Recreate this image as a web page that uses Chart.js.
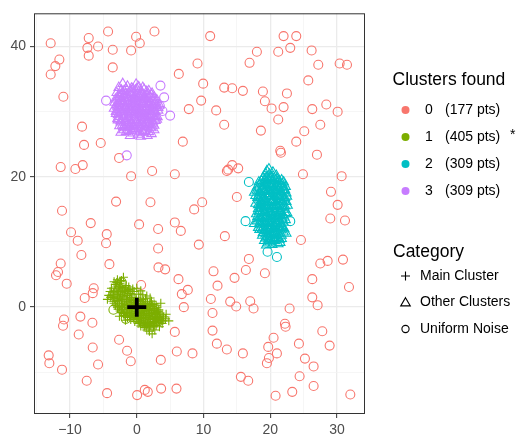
<!DOCTYPE html>
<html lang="en">
<head>
    <meta charset="UTF-8">
    <title>Clusters</title>
    <script src="https://cdn.jsdelivr.net/npm/chart.js@4.4.0/dist/chart.umd.min.js"></script>
    <style>
        body { margin: 0; background: #fff; }
    </style>
</head>
<body>
<canvas id="chart" width="517" height="441"></canvas>

<script>
    // uniform noise, assigned to cluster 0
    const noise0 = [
        [-12.9,40.5],[-7.2,41.3],[-4.3,42.3],[-7.4,39.8],[-5.8,40],[-7.2,38.6],[-3.6,39.5],[-11.6,38],[-12.2,37],
        [-12.9,35.7],[-11.0,32.3],[-3.6,36.8],[-0.1,41.5],[0.45,40.5],[-0.85,39.4],[2.65,42.3],[11.0,41.6],[6.3,35.8],
        [9.1,37.4],[9.95,34.3],[9.65,31.7],[7.8,30.4],[11.9,30.2],[13.1,33.7],[14.3,33.6],[15.9,33.2],[13.1,28.0],
        [16.9,37.5],[18.0,39.2],[21.2,39.2],[22.0,41.6],[23.9,41.6],[23.0,39.8],[26.2,39.4],[27.2,37.2],[30.4,37.4],
        [31.5,37.2],[25.7,34.8],[18.9,33.1],[19.2,31.6],[22.5,32.8],[22.0,30.7],[20.2,30.5],[26.3,30.4],[28.4,31.1],
        [30.1,30.0],[21.2,28.8],[18.6,27.1],[25.1,27.0],[27.5,28.0],[23.9,25.4],[21.5,24.0],[21.6,23.7],[27.0,23.4],
        [24.9,20.4],[30.7,20.1],[29.1,17.7],[30.1,15.7],[29.0,13.6],[31.2,13.3],[-8.2,27.7],[-7.9,24.9],[-5.4,25.2],
        [-8.1,21.8],[-9.2,21.2],[-11.4,21.5],[-11.2,14.8],[-2.65,22.9],[-0.85,20.1],[2.3,20.9],[5.7,20.4],[6.9,25.4],
        [-3.1,16.2],[2.05,16.1],[8.6,15.0],[9.8,16.1],[13.5,20.9],[13.7,21.1],[14.3,21.8],[15.2,21.3],[15.0,16.9],
        [-6.9,12.9],[0.35,12.7],[5.7,13.0],
        [3.2,12.0],[6.6,11.7],[-9.85,11.5],[-8.85,10.2],[-4.5,11.2],[-4.6,9.8],[-8.3,8.0],[-11.4,6.7],[-11.8,5.4],
        [-12.1,4.9],[-10.5,3.6],[-4.1,6.6],[-6.45,2.9],[-6.6,2.15],[-7.8,1.4],[0.65,3.4],[3.2,9.0],[3.25,6.1],
        [4.25,5.8],[6.25,4.3],[6.75,2.0],[7.65,2.65],[7.05,0],[9.3,9.6],[13.2,10.9],[11.5,5.5],[12.1,3.3],[11.1,1.25],
        [14.0,0.85],[14.9,0.1],[11.35,-0.9],[14.65,4.5],[16.35,5.7],[16.8,7.4],[17.0,0.9],[17.5,-0.2],[19.2,5.2],
        [24.6,10.3],[27.5,6.7],[28.6,7.1],[30.9,7.3],[26.3,4.3],[31.8,3.1],[26.3,1.5],[27.1,0.3],[22.9,-0.2],
        [22.2,-2.55],[22.3,-3.0],[27.8,-3.7],[28.9,-5.9],[20.5,-4.7],[19.7,-6.1],[24.3,-5.6],[21.0,-7.1],[19.8,-7.8],
        [19.5,-8.6],[25.2,-7.9],[26.5,-9.1],[24.4,-10.6],[26.5,-12.1],[23.3,-13.0],[20.8,-13.6],[32.0,-13.4],
        [15.6,-10.7],[16.7,-11.3],[15.9,-7.1],[13.5,-6.5],[12.0,-5.6],[11.35,-3.6],[8.35,-7.1],[6.0,-6.8],[5.7,-3.8],
        [3.6,-8.1],[3.65,-12.5],[5.95,-12.5],[0.05,-13.5],[1.2,-12.7],[1.65,-13.0],[-4.45,-13.2],[-7.5,-11.3],
        [-11.2,-9.6],[-13.1,-8.6],[-13.2,-7.4],[-5.8,-8.8],[-6.6,-6.2],[-8.7,-4.2],[-8.45,-1.45],[-6.65,-2.4],
        [-10.9,-1.9],[-11.05,-2.85],[-2.65,-5.0],[-1.45,-6.7],[-0.9,-8.3]
    ];
    // noise points picked up by the clusters
    const noise1 = [[-3.5,-0.4],[-1.65,-1.8],[-2.25,3.8]];
    const noise2 = [[16.8,19.2],[16.3,13.2],[23.0,13.2],[19.6,8.5],[21.0,7.7]];
    const noise3 = [[-4.6,31.7],[3.55,34.0],[4.1,32.2],[3.85,30.1],[5.0,29.4],[3.45,30.9],[-1.5,23.3]];

    // main cluster around the origin
    const mainPts = [
        [-3.4,3.9],[-2.9,4.2],[-2.5,3.6],[-3.0,3.1],[-3.8,2.9],[-2.2,3.0],[-1.6,3.3],[-1.2,2.7],[-2.7,2.4],[-3.5,2.2],
        [-4.2,1.8],[-4.4,1.2],[-3.9,1.5],[-3.1,1.7],[-2.4,1.9],[-1.8,2.2],[-1.0,2.1],[-0.4,2.4],[0.3,2.0],[0.9,1.9],
        [-3.6,0.9],[-2.9,1.0],[-2.2,1.2],[-1.5,1.4],[-0.8,1.5],[-0.1,1.4],[0.6,1.2],[1.3,1.3],[-3.2,0.3],[-2.6,0.5],
        [-1.9,0.6],[-1.2,0.8],[-0.5,0.7],[0.2,0.6],[0.9,0.5],[1.6,0.6],[2.2,0.9],[-2.8,-0.3],[-2.1,-0.1],[-1.4,0.0],
        [-0.7,0.1],[0.1,-0.1],[0.8,-0.2],[1.5,-0.1],[2.3,0.1],[2.9,0.3],[-2.3,-0.8],[-1.6,-0.6],[-0.9,-0.6],[-0.2,-0.7],
        [0.5,-0.8],[1.2,-0.7],[1.9,-0.6],[2.6,-0.5],[3.3,-0.4],[-1.9,-1.3],[-1.1,-1.2],[-0.4,-1.3],[0.3,-1.4],[1.0,-1.3],
        [1.7,-1.3],[2.4,-1.2],[3.1,-1.1],[3.8,-1.2],[-0.9,-1.9],[-0.1,-1.9],[0.6,-2.0],[1.3,-2.0],[2.0,-1.9],[2.7,-1.8],
        [3.5,-1.7],[4.3,-1.8],[4.8,-2.1],[0.2,-2.5],[0.9,-2.6],[1.6,-2.6],[2.3,-2.5],[3.0,-2.4],[3.8,-2.5],[1.1,-3.1],
        [1.8,-3.2],[2.5,-3.0],[1.9,-3.7],[2.3,-4.1],[-2.0,4.6],[-1.4,1.8],[0.0,2.9],[-2.6,-1.4],[3.6,0.6],[2.7,-3.5],
        [-3.2,3.5],[-2.6,3.2],[-1.9,2.8],[-3.3,2.6],[-2.9,2.0],[-2.1,2.5],[-1.4,2.4],[-0.7,1.9],[-3.7,1.9],[-3.3,1.3],
        [-2.6,1.4],[-1.9,1.7],[-1.1,1.2],[-0.4,1.0],[0.3,1.0],[1.0,0.9],[-3.4,0.6],[-2.6,0.1],[-1.8,0.3],[-1.0,0.4],
        [-0.3,0.3],[0.5,0.2],[1.2,0.2],[1.9,0.3],[2.6,0.5],[-2.5,-0.6],[-1.8,-0.3],[-1.1,-0.3],[-0.4,-0.3],[0.4,-0.4],
        [1.1,-0.4],[1.8,-0.3],[2.6,-0.2],[3.1,-0.7],[-2.0,-1.0],[-1.3,-0.9],[-0.6,-1.0],[0.1,-1.0],[0.8,-1.0],[1.5,-0.9],
        [2.2,-0.9],[2.9,-0.8],[3.5,-0.9],[-1.4,-1.6],[-0.7,-1.6],[0.0,-1.6],[0.7,-1.7],[1.4,-1.6],[2.1,-1.5],[2.8,-1.5],
        [3.4,-1.4],[4.0,-1.5],[-0.3,-2.2],[0.4,-2.3],[1.1,-2.3],[1.8,-2.3],[2.5,-2.2],[3.2,-2.1],[3.9,-2.1],[0.6,-2.9],
        [1.4,-2.9],[2.1,-2.8],[2.9,-2.8],[3.4,-3.0],[1.5,-3.5],[-2.3,4.1],[-1.2,3.1],[-0.6,2.8],[0.6,2.5],[1.5,1.7],
        [2.0,1.4],[-4.0,2.4],[4.4,-1.1],[-1.7,-2.0],
        [-3.0,3.8],[-2.4,3.9],[-2.8,2.8],[-2.4,2.2],[-1.7,2.6],[-1.0,2.5],[-3.5,1.6],[-2.8,1.4],[-2.1,1.6],[-1.5,1.1],
        [-0.8,1.1],[-0.1,1.1],[0.6,0.9],[1.3,0.8],[-3.1,0.9],[-2.3,0.8],[-1.6,0.9],[-0.9,0.8],[-0.2,0.5],[0.6,0.5],
        [1.3,0.5],[2.0,0.6],[-2.9,0.0],[-2.2,0.3],[-1.5,0.4],[-0.8,-0.2],[0.1,0.3],[0.9,0.1],[1.6,0.1],[2.3,0.4],
        [3.0,-0.1],[-2.2,-0.4],[-1.5,-0.8],[-0.8,-0.9],[-0.1,-0.4],[0.7,-0.6],[1.4,-0.5],[2.1,-0.3],[2.8,-1.1],[3.3,-0.6],
        [-1.7,-1.4],[-0.9,-1.4],[-0.2,-1.2],[0.5,-1.2],[1.2,-1.1],[1.9,-1.0],[2.6,-1.0],[3.2,-1.6],[-0.5,-1.7],[0.3,-1.8],
        [1.0,-1.8],[1.7,-1.7],[2.4,-1.7],[3.0,-1.9],[3.7,-2.0],[0.6,-2.4],[1.3,-2.5],[2.0,-2.4],[2.7,-2.3],[3.5,-2.3],
        [1.2,-2.8],[1.9,-3.0],[2.6,-2.7]
    ];
    const mainCenter = [[0, 0]];

    // the two other clusters
    const otherPts2 = [
        [19.8,21.2],[20.4,20.7],[19.3,20.5],[20.9,20.2],[18.9,19.8],[19.7,19.6],[20.6,19.8],[21.3,19.4],[18.3,19.2],
        [19.1,19.0],[20.1,18.9],[21.0,18.7],[21.8,18.9],[18.0,18.4],[18.8,18.2],[19.6,18.4],[20.5,18.1],[21.4,18.3],
        [22.2,18.0],[17.6,17.6],[18.4,17.5],[19.2,17.7],[20.0,17.4],[20.8,17.6],[21.6,17.3],[22.4,17.5],[18.1,16.8],
        [18.9,16.6],[19.7,16.9],[20.5,16.5],[21.3,16.7],[22.1,16.4],[17.8,15.9],[18.6,16.0],[19.4,15.8],[20.2,16.0],
        [21.0,15.7],[21.8,15.9],[22.6,15.6],[18.2,15.1],[19.0,15.2],[19.8,14.9],[20.6,15.1],[21.4,14.8],[22.2,15.0],
        [17.9,14.3],[18.7,14.4],[19.5,14.1],[20.3,14.3],[21.1,14.0],[21.9,14.2],[18.3,13.5],[19.1,13.6],[19.9,13.3],
        [20.7,13.5],[21.5,13.2],[22.3,13.4],[17.6,12.8],[18.5,12.6],[19.3,12.8],[20.1,12.5],[20.9,12.7],[21.7,12.4],
        [18.4,11.9],[19.2,11.7],[20.0,11.9],[20.8,11.6],[21.6,11.8],[22.4,11.3],[18.8,11.0],[19.6,10.8],[20.4,11.0],
        [21.2,10.7],[19.1,10.2],[19.9,10.0],[20.7,10.2],[21.5,9.9],[19.4,9.5],[20.3,9.6],[19.5,20.9],[20.3,16.2],
        [19.0,13.0],[20.5,12.0],[21.2,17.0],[18.6,15.5],[22.0,19.2],
        [19.4,19.9],[20.2,20.0],[21.0,19.7],[18.7,19.4],[19.5,19.3],[20.3,19.4],[21.1,19.2],[21.7,19.5],[18.4,18.7],
        [19.2,18.6],[20.0,18.6],[20.8,18.5],[21.6,18.7],[22.3,18.5],[18.0,17.9],[18.8,18.0],[19.6,17.9],[20.4,17.8],
        [21.2,18.0],[22.0,17.8],[17.8,17.1],[18.6,17.2],[19.4,17.3],[20.2,17.1],[21.0,17.2],[21.8,17.1],[22.5,17.0],
        [18.3,16.4],[19.1,16.3],[19.9,16.5],[20.7,16.2],[21.5,16.4],[22.4,16.2],[18.2,15.7],[19.0,15.6],[19.8,15.6],
        [20.6,15.5],[21.4,15.6],[22.2,15.5],[18.4,14.8],[19.2,14.7],[20.0,14.7],[20.8,14.6],[21.6,14.7],[22.5,14.5],
        [18.1,13.9],[18.9,14.0],[19.7,13.9],[20.5,13.8],[21.3,14.0],[22.1,13.8],[18.0,13.2],[18.8,13.1],[19.6,13.2],
        [20.4,13.0],[21.2,13.2],[22.0,13.0],[18.2,12.2],[19.0,12.3],[19.8,12.2],[20.6,12.4],[21.4,12.2],[22.1,12.0],
        [18.9,11.4],[19.7,11.5],[20.5,11.4],[21.3,11.3],[22.0,11.5],[19.3,10.6],[20.1,10.5],[20.9,10.6],[21.7,10.5],
        [19.6,9.8],[20.5,10.3],[21.2,9.7],
        [19.9,20.4],[19.2,19.6],[20.0,19.7],[20.8,19.5],[18.8,18.9],[19.6,18.8],[20.4,18.7],[21.2,18.6],[22.0,18.4],
        [18.4,17.7],[19.2,17.9],[20.0,17.8],[20.8,17.9],[21.6,17.7],[18.2,17.0],[19.0,16.9],[19.8,17.1],[20.6,16.9],
        [21.4,17.0],[22.2,16.8],[18.7,16.2],[19.5,16.1],[20.3,16.3],[21.1,16.1],[21.9,16.2],[18.6,15.3],[19.4,15.4],
        [20.2,15.3],[21.0,15.4],[21.8,15.3],[18.3,14.6],[19.1,14.5],[19.9,14.5],[20.7,14.4],[21.5,14.5],[22.3,14.4],
        [18.6,13.7],[19.4,13.8],[20.2,13.6],[21.0,13.8],[21.8,13.6],[18.4,12.9],[19.2,12.9],[20.0,12.8],[20.8,13.0],
        [21.6,12.8],[18.8,12.0],[19.6,12.1],[20.4,12.0],[21.2,12.1],[21.9,12.2],[19.3,11.2],[20.1,11.2],[20.9,11.1],
        [21.7,11.0],[19.7,10.4],[20.6,10.7],[21.4,10.4]
    ];
    const otherPts3 = [
        [-2.1,34.3],[-2.7,33.7],[-1.4,33.9],[-0.6,33.5],[0.3,33.8],[1.1,33.4],[2.3,32.8],[-3.0,32.9],[-2.2,32.8],
        [-1.5,32.6],[-0.7,32.9],[0.1,32.7],[0.9,32.5],[1.7,32.7],[2.6,32.2],[-3.2,31.9],[-2.5,31.7],[-1.8,31.9],
        [-1.0,31.6],[-0.2,31.8],[0.6,31.5],[1.4,31.8],[2.1,31.5],[2.9,31.4],[-2.9,30.8],[-2.1,30.9],[-1.3,30.6],
        [-0.5,30.8],[0.3,30.5],[1.1,30.7],[1.9,30.4],[2.7,30.6],[3.2,30.2],[-3.1,29.7],[-2.4,29.9],[-1.6,29.6],
        [-0.8,29.8],[0.0,29.5],[0.8,29.7],[1.6,29.4],[2.4,29.6],[3.1,29.2],[-2.8,28.7],[-2.0,28.9],[-1.2,28.6],
        [-0.4,28.8],[0.4,28.5],[1.2,28.7],[2.0,28.4],[2.8,28.6],[-2.6,27.8],[-1.8,27.5],[-1.0,27.7],[-0.2,27.4],
        [0.6,27.6],[1.4,27.3],[2.2,27.5],[-1.6,26.9],[-0.6,26.7],[0.2,26.5],[1.0,26.8],[2.2,26.6],[-2.3,33.3],
        [1.8,33.2],[-0.1,34.2],[0.7,29.0],[-1.9,30.2],[1.5,30.0],[-0.9,31.2],[0.5,32.2],
        [-1.9,33.2],[-1.0,33.1],[-0.2,33.3],[0.7,33.0],[1.5,33.1],[-2.6,32.3],[-1.9,32.4],[-1.1,32.2],[-0.3,32.4],
        [0.4,32.3],[1.2,32.2],[2.0,32.3],[-2.9,32.1],[-2.2,32.0],[-1.5,32.1],[-0.5,32.0],[0.2,32.1],[1.0,31.9],
        [1.8,32.0],[2.5,31.8],[-2.7,31.2],[-2.0,31.3],[-1.3,31.1],[-0.5,31.3],[0.2,31.1],[1.0,31.2],[1.7,31.1],
        [2.4,31.0],[2.9,30.9],[-2.6,30.3],[-1.7,30.5],[-0.9,30.3],[-0.1,30.4],[0.7,30.2],[1.5,30.5],[2.3,30.2],
        [-3.0,30.2],[-2.3,30.0],[-1.2,30.0],[-0.3,30.1],[0.4,29.9],[1.1,30.1],[2.0,29.9],[2.8,30.0],[-2.7,29.2],
        [-2.0,29.3],[-1.2,29.2],[-0.4,29.1],[0.4,29.3],[1.2,29.1],[2.0,29.2],[2.7,29.0],[-2.4,28.4],[-1.6,28.3],
        [-0.8,28.2],[0.0,28.3],[0.8,28.2],[1.6,28.1],[2.4,28.2],[-2.2,27.9],[-1.4,28.0],[-0.6,27.9],[0.2,28.0],
        [1.0,27.9],[1.8,28.0],[2.6,27.9],[-2.0,27.2],[-1.2,27.1],[-0.4,27.2],[0.4,27.0],[1.2,27.1],[1.8,26.9],
        [-1.0,26.3],[0.6,26.2],[1.6,26.3],[-3.3,31.4],[-3.4,30.5],[3.4,31.0],[-2.4,26.8],[2.6,27.2],
        [-2.5,32.6],[-1.7,32.7],[-0.9,32.6],[-0.1,32.5],[0.7,32.7],[1.5,32.5],[2.2,32.6],[-2.8,31.5],[-2.1,31.6],
        [-1.4,31.5],[-0.6,31.6],[0.2,31.4],[1.0,31.5],[1.8,31.4],[2.6,31.2],[-2.5,30.6],[-1.7,30.8],[-0.9,30.7],
        [-0.1,30.6],[0.7,30.8],[1.5,30.7],[2.3,30.6],[-2.8,29.5],[-2.0,29.6],[-1.2,29.5],[-0.4,29.6],[0.4,29.7],
        [1.2,29.5],[2.0,29.6],[2.8,29.4],[-2.4,28.6],[-1.6,28.7],[-0.8,28.5],[0.0,28.7],[0.8,28.6],[1.6,28.7],
        [2.4,28.5],[-2.0,27.7],[-1.2,27.6],[-0.4,27.8],[0.4,27.6],[1.2,27.7],[2.0,27.6],[-1.6,33.5],[-0.8,33.6],
        [0.0,33.5],[0.9,33.7],[-0.7,27.0],[0.9,26.9],[-3.0,31.0],[-3.1,30.0],[-2.9,28.9],[3.0,31.8],[3.2,30.6],
        [3.0,28.8]
    ];

    // legend contents
    const clusterIds = [0, 1, 2, 3];
    const clusterSizes = [177, 405, 309, 309];
    const mainClusterId = 1;
    const categoryNames = ['Main Cluster', 'Other Clusters', 'Uniform Noise'];

    // axis ticks
    const xGrid = [-15, -10, -5, 0, 5, 10, 15, 20, 25, 30];
    const xLabels = [-10, 0, 10, 20, 30];
    const yGrid = [-10, 0, 10, 20, 30, 40];
    const yLabels = [0, 20, 40];

    const colors = ['#F8766D', '#7CAE00', '#00BFC4', '#C77CFF'];
    const FONT = "'Liberation Sans', Arial, sans-serif";

    const toXY = arr => arr.map(p => ({x: p[0], y: p[1]}));

    function pts(data, color, style, r, bw) {
        return {
            data: toXY(data),
            pointStyle: style,
            pointRadius: r,
            pointHoverRadius: r,
            borderColor: color,
            backgroundColor: 'rgba(0,0,0,0)',
            borderWidth: bw || 1.1,
            pointBorderWidth: bw || 1.1,
            showLine: false
        };
    }

    function fmt(v) {
        return v < 0 ? '\u2212' + Math.abs(v) : String(v);
    }

    function axis(min, max, grid, labels, isX) {
        return {
            type: 'linear',
            min: min,
            max: max,
            afterBuildTicks: s => { s.ticks = grid.map(v => ({value: v})); },
            afterFit: s => { if (isX) s.height = 27; else s.width = 34; },
            border: {display: false},
            grid: {
                color: c => labels.includes(c.tick.value) ? '#EBEBEB' : '#F2F2F2',
                lineWidth: c => labels.includes(c.tick.value) ? 1.3 : 0.7,
                tickColor: c => labels.includes(c.tick.value) ? '#333333' : 'rgba(0,0,0,0)',
                tickLength: 4,
                tickWidth: 1
            },
            ticks: {
                autoSkip: false,
                maxRotation: 0,
                padding: 4,
                color: '#4D4D4D',
                font: {family: FONT, size: 14},
                callback: v => labels.includes(v) ? fmt(v) : ''
            }
        };
    }

    // panel border on top of the points
    const panelBox = {
        id: 'panelBox',
        afterDatasetsDraw(chart) {
            const a = chart.chartArea, ctx = chart.ctx;
            ctx.save();
            ctx.strokeStyle = '#333333';
            ctx.lineWidth = 1;
            ctx.strokeRect(a.left + 0.5, a.top + 0.5, a.right - a.left - 1, a.bottom - a.top - 1);
            ctx.restore();
        }
    };

    // two legend blocks on the right
    const sideLegend = {
        id: 'sideLegend',
        afterDraw(chart) {
            const ctx = chart.ctx;
            ctx.save();
            ctx.fillStyle = '#000';
            ctx.textBaseline = 'middle';
            ctx.textAlign = 'left';

            ctx.font = '17.5px ' + FONT;
            ctx.fillText('Clusters found', 392.5, 80);
            ctx.font = '14px ' + FONT;
            clusterIds.forEach((id, i) => {
                const y = 110 + i * 27;
                ctx.fillStyle = colors[i];
                ctx.beginPath();
                ctx.arc(405.5, y, 4, 0, Math.PI * 2);
                ctx.fill();
                ctx.fillStyle = '#000';
                ctx.fillText(String(id), 425, y);
                ctx.fillText('(' + clusterSizes[i] + ' pts)', 445, y);
                if (id === mainClusterId) ctx.fillText('*', 510, y - 2);
            });

            ctx.font = '17.5px ' + FONT;
            ctx.fillText('Category', 393, 252);
            ctx.font = '14px ' + FONT;
            ctx.strokeStyle = '#000';
            ctx.lineWidth = 1.1;
            categoryNames.forEach((name, i) => {
                const y = 276 + i * 26.5, x = 405.5;
                ctx.beginPath();
                if (i === 0) {
                    ctx.moveTo(x - 4.5, y); ctx.lineTo(x + 4.5, y);
                    ctx.moveTo(x, y - 4.5); ctx.lineTo(x, y + 4.5);
                } else if (i === 1) {
                    ctx.moveTo(x, y - 4.8); ctx.lineTo(x + 4.8, y + 3.4); ctx.lineTo(x - 4.8, y + 3.4); ctx.closePath();
                } else {
                    ctx.arc(x, y, 3.6, 0, Math.PI * 2);
                }
                ctx.stroke();
                ctx.fillText(name, 420, y);
            });
            ctx.restore();
        }
    };

    // Chart.js paints the first dataset on top, so the centre marker goes first
    new Chart(document.getElementById('chart'), {
        type: 'scatter',
        data: {
            datasets: [
                pts(mainCenter, '#000000', 'cross', 9.5, 3.8),
                pts(noise1, colors[1], 'circle', 4.5),
                pts(mainPts, colors[1], 'cross', 4.5),
                pts(noise2, colors[2], 'circle', 4.5),
                pts(otherPts2, colors[2], 'triangle', 5.5),
                pts(noise3, colors[3], 'circle', 4.5),
                pts(otherPts3, colors[3], 'triangle', 5.5),
                pts(noise0, colors[0], 'circle', 4.5)
            ]
        },
        options: {
            responsive: false,
            animation: false,
            layout: {padding: {top: 5, right: 152, left: 0, bottom: 0}},
            plugins: {legend: {display: false}, tooltip: {enabled: false}},
            scales: {
                x: axis(-15.4, 34.2, xGrid, xLabels, true),
                y: axis(-16.4, 45.1, yGrid, yLabels, false)
            }
        },
        plugins: [panelBox, sideLegend]
    });
</script>
</body>
</html>
